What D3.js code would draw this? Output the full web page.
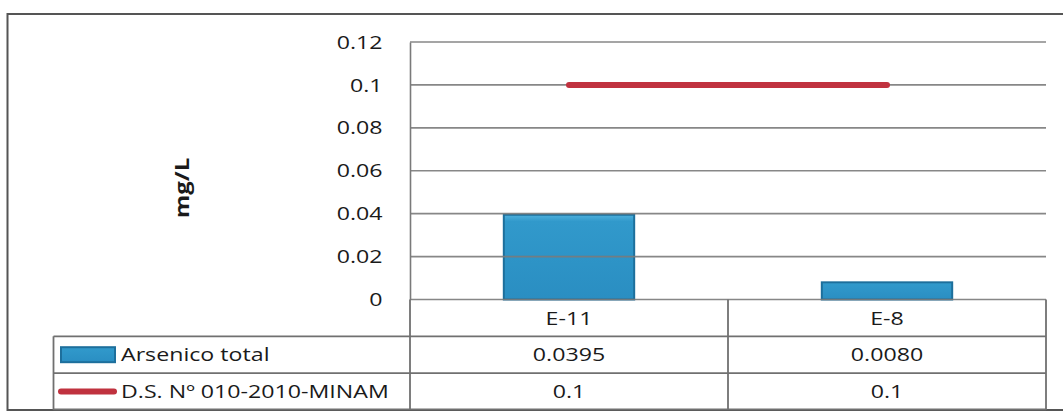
<!DOCTYPE html>
<html>
<head>
<meta charset="utf-8">
<script src="https://cdn.jsdelivr.net/npm/d3@7"></script>
<style>
  body { margin: 0; background: #fff; }
  text { font-family: "Open Sans", Lato, sans-serif; fill: #1a1a1a; }
</style>
</head>
<body>
<div id="chart"></div>
<script>
// data
var categories = ["E-11", "E-8"];
var arsenico = [0.0395, 0.0080];
var arsenicoLabels = ["0.0395", "0.0080"];
var limite = [0.1, 0.1];
var limiteLabels = ["0.1", "0.1"];
var tickValues = [0, 0.02, 0.04, 0.06, 0.08, 0.1, 0.12];
var tickLabels = ["0", "0.02", "0.04", "0.06", "0.08", "0.1", "0.12"];
var seriesNames = ["Arsenico total", "D.S. Nº 010-2010-MINAM"];

var W = 1063, H = 413;
var plotLeft = 410, plotRight = 1046, plotTop = 42, plotBottom = 299.5;
var rowH = 36.8, tableLeft = 53.5;
var gridColor = "#7a7a7a";
var fs = "19px";
var sx = 1.22; // the source picture is a bit stretched sideways

var svg = d3.select("#chart")
  .append("svg")
    .attr("width", W)
    .attr("height", H);

// outer frame
svg.append("rect")
    .attr("x", 7.5).attr("y", 14)
    .attr("width", 1080).attr("height", 396)
    .attr("fill", "none")
    .attr("stroke", "#555")
    .attr("stroke-width", 2);

var x = d3.scaleBand()
    .domain(categories)
    .range([plotLeft, plotRight])
    .padding(0);

var xBar = d3.scaleBand()
    .domain(categories)
    .range([plotLeft, plotRight])
    .paddingInner(0.59)
    .paddingOuter(0.295);

var y = d3.scaleLinear()
    .domain([0, 0.12])
    .range([plotBottom, plotTop]);

// gradient for the bars
var defs = svg.append("defs");
var grad = defs.append("linearGradient")
    .attr("id", "barGrad")
    .attr("x1", 0).attr("y1", 0).attr("x2", 0).attr("y2", 1);
grad.append("stop").attr("offset", "0%").attr("stop-color", "#4fb0dc");
grad.append("stop").attr("offset", "8%").attr("stop-color", "#3199cb");
grad.append("stop").attr("offset", "100%").attr("stop-color", "#2a8ec2");

// bars
svg.append("g")
  .selectAll("rect")
  .data(categories)
  .enter()
  .append("rect")
    .attr("x", d => xBar(d))
    .attr("y", (d, i) => y(arsenico[i]))
    .attr("width", xBar.bandwidth())
    .attr("height", (d, i) => plotBottom - y(arsenico[i]))
    .attr("fill", "url(#barGrad)")
    .attr("stroke", "#1d6f9c")
    .attr("stroke-width", 2);

// gridlines
svg.append("g")
  .selectAll("line")
  .data(tickValues)
  .enter()
  .append("line")
    .attr("x1", plotLeft).attr("x2", plotRight)
    .attr("y1", d => y(d)).attr("y2", d => y(d))
    .attr("stroke", gridColor)
    .attr("stroke-opacity", 0.9)
    .attr("stroke-width", 1.6);

// y axis
var yAxis = svg.append("g")
    .attr("transform", "translate(" + plotLeft + ",0)")
    .call(d3.axisLeft(y)
      .tickValues(tickValues)
      .tickSize(0)
      .tickPadding(27)
      .tickFormat((d, i) => tickLabels[i]));
yAxis.select(".domain").attr("stroke", gridColor).attr("stroke-width", 1.6);
yAxis.selectAll("text")
    .style("font-family", "'Open Sans', sans-serif")
    .style("font-size", fs)
    .attr("fill", "#1a1a1a")
    .attr("x", -27.5 / sx)
    .attr("transform", "scale(" + sx + ",1)");

// red line
var line = d3.line()
    .x((d, i) => x(categories[i]) + x.bandwidth() / 2)
    .y(d => y(d));
svg.append("path")
    .datum(limite)
    .attr("d", line)
    .attr("fill", "none")
    .attr("stroke", "#c0323f")
    .attr("stroke-width", 6)
    .attr("stroke-linecap", "round");

// y label
svg.append("text")
    .attr("transform", "translate(189,188) rotate(-90) scale(1.2,1)")
    .attr("text-anchor", "middle")
    .style("font-size", "20px")
    .style("font-weight", "bold")
    .text("mg/L");

// data table
var table = svg.append("g");
var tColor = "#707070";
// horizontal rules
[1, 2, 3].forEach(function(k) {
  var yy = plotBottom + k * rowH - (k == 3 ? 0.5 : 0);
  table.append("line")
      .attr("x1", tableLeft).attr("x2", plotRight)
      .attr("y1", yy).attr("y2", yy)
      .attr("stroke", tColor).attr("stroke-width", 1.8);
});
// vertical rules
table.append("line")
    .attr("x1", tableLeft).attr("x2", tableLeft)
    .attr("y1", plotBottom + rowH).attr("y2", plotBottom + 3 * rowH)
    .attr("stroke", tColor).attr("stroke-width", 1.8);
[plotLeft, x(categories[1]), plotRight].forEach(function(xx) {
  table.append("line")
      .attr("x1", xx).attr("x2", xx)
      .attr("y1", plotBottom).attr("y2", plotBottom + 3 * rowH)
      .attr("stroke", tColor).attr("stroke-width", 1.8);
});

function cellText(cls, labels, row) {
  table.selectAll("." + cls)
    .data(labels)
    .enter()
    .append("text")
      .attr("class", cls)
      .attr("transform", (d, i) => "translate(" + (x(categories[i]) + x.bandwidth() / 2) + "," +
            (plotBottom + rowH * (row + 0.5)) + ") scale(" + sx + ",1)")
      .attr("dy", "0.35em")
      .attr("text-anchor", "middle")
      .style("font-size", fs)
      .text(d => d);
}
cellText("cat", categories, 0);
cellText("v1", arsenicoLabels, 1);
cellText("v2", limiteLabels, 2);

// legend keys in the table
table.append("rect")
    .attr("x", 61).attr("y", plotBottom + rowH * 1.5 - 7.5)
    .attr("width", 54).attr("height", 15)
    .attr("fill", "url(#barGrad)")
    .attr("stroke", "#1d6f9c")
    .attr("stroke-width", 2);
table.append("line")
    .attr("x1", 61).attr("x2", 114)
    .attr("y1", plotBottom + rowH * 2.5).attr("y2", plotBottom + rowH * 2.5)
    .attr("stroke", "#c0323f")
    .attr("stroke-width", 6)
    .attr("stroke-linecap", "round");

table.selectAll(".sname")
  .data(seriesNames)
  .enter()
  .append("text")
    .attr("class", "sname")
    .attr("transform", (d, i) => "translate(121," + (plotBottom + rowH * (1.5 + i)) + ") scale(" + sx + ",1)")
    .attr("dy", "0.35em")
    .style("font-size", fs)
    .text(d => d);
</script>
</body>
</html>
